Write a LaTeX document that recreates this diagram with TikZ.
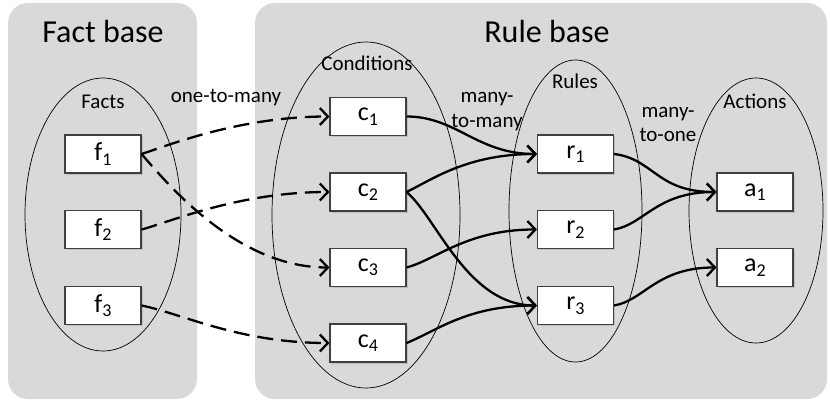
\documentclass[tikz,border=0pt]{standalone}
\usepackage{fontspec}
\setmainfont{Carlito}
\usetikzlibrary{arrows.meta,shadows}
\definecolor{panelgray}{HTML}{D9D9D9}
\definecolor{boxborder}{HTML}{404040}
\newcommand\mysub[1]{\raisebox{-4.5pt}{\fontsize{18}{18}\selectfont #1}}
\begin{document}
\begin{tikzpicture}[x=1pt,y=1pt,
  panel/.style={fill=panelgray,draw=none,rounded corners=20pt},
  setell/.style={draw=black,line width=0.7pt},
  item/.style={draw=boxborder,fill=white,line width=1.1pt,minimum width=76pt,minimum height=38pt,inner sep=0pt,
    font=\fontsize{26}{28}\selectfont,
    drop shadow={shadow xshift=1.5pt,shadow yshift=-1.5pt,fill=black,opacity=0.12}},
  lbl/.style={font=\fontsize{21}{24}\selectfont,inner sep=0pt,anchor=base},
  ttl/.style={font=\fontsize{32}{36}\selectfont,inner sep=0pt,anchor=base},
  link/.style={line width=2.3pt,-{Straight Barb[length=8pt,width=17pt,line width=2.3pt]}},
  dlink/.style={link,dash pattern=on 16pt off 8pt},
]
\useasboundingbox (0,0) rectangle (830,-401);
\fill[white] (0,0) rectangle (830,-401);
% panels
\path[panel] (8,-3) rectangle (197,-399);
\path[panel] (255,-3) rectangle (827,-399);
\node[ttl] (tfact) at (103,-43) {Fact base};
\node[ttl] (trule) at (547,-43) {Rule base};
% sets
\draw[setell] (103,-214.5) ellipse [x radius=78,y radius=136.5];
\draw[setell] (366,-215) ellipse [x radius=94,y radius=173];
\draw[setell] (575.5,-211) ellipse [x radius=66.5,y radius=151];
\draw[setell] (756,-210.5) ellipse [x radius=67,y radius=132.5];
\node[lbl] (lfacts) at (103,-109) {Facts};
\node[lbl] (lcond) at (367,-71) {Conditions};
\node[lbl] (lrules) at (575,-89) {Rules};
\node[lbl] (lact) at (755,-109) {Actions};
\node[lbl] (otm) at (226,-103) {one-to-many};
\node[lbl] (mtm1) at (487,-103) {many-};
\node[lbl] (mtm2) at (487,-128) {to-many};
\node[lbl] (mto1) at (668,-118) {many-};
\node[lbl] (mto2) at (668,-142) {to-one};
% boxes
\node[item] (f1) at (103,-154) {f\mysub{1}};
\node[item] (f2) at (103,-229.5) {f\mysub{2}};
\node[item] (f3) at (103,-305.5) {f\mysub{3}};
\node[item] (c1) at (368,-116.5) {c\mysub{1}};
\node[item] (c2) at (368,-192) {c\mysub{2}};
\node[item] (c3) at (368,-267.5) {c\mysub{3}};
\node[item] (c4) at (368,-343) {c\mysub{4}};
\node[item] (r1) at (575.5,-154) {r\mysub{1}};
\node[item] (r2) at (575.5,-229.5) {r\mysub{2}};
\node[item] (r3) at (575.5,-305.5) {r\mysub{3}};
\node[item] (a1) at (755,-192) {a\mysub{1}};
\node[item] (a2) at (755,-267.5) {a\mysub{2}};
% dashed links
\draw[dlink] (f1.east) .. controls +(25,8) and +(-90,0) .. (c1.west);
\draw[dlink] (f1.east) .. controls +(30,-35) and +(-90,0) .. (c3.west);
\draw[dlink] (f2.east) .. controls +(30,8) and +(-90,0) .. (c2.west);
\draw[dlink] (f3.east) .. controls +(40,-8) and +(-90,0) .. (c4.west);
% solid links
\draw[link] (c1.east) .. controls +(50,0) and +(-60,0) .. (r1.west);
\draw[link] (c2.east) .. controls +(25,12) and +(-70,0) .. (r1.west);
\draw[link] (c2.east) .. controls +(30,-25) and +(-70,0) .. (r3.west);
\draw[link] (c3.east) .. controls +(30,8) and +(-70,0) .. (r2.west);
\draw[link] (c4.east) .. controls +(30,12) and +(-70,0) .. (r3.west);
\draw[link] (r1.east) .. controls +(40,-5) and +(-60,0) .. (a1.west);
\draw[link] (r2.east) .. controls +(30,5) and +(-60,0) .. (a1.west);
\draw[link] (r3.east) .. controls +(30,5) and +(-60,0) .. (a2.west);
\end{tikzpicture}
\end{document}
